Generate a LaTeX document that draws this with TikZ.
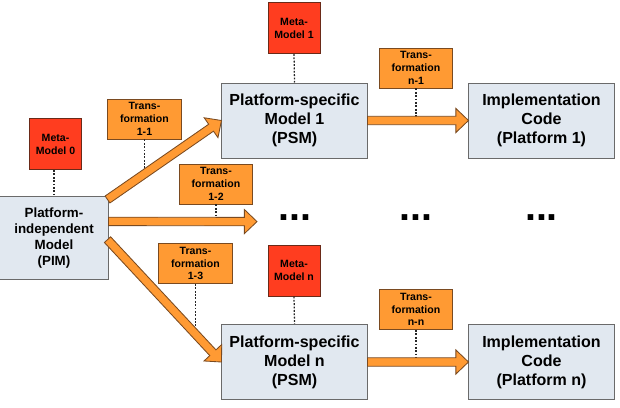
\documentclass[tikz,border=0pt]{standalone}
\usepackage{fontspec}
\setmainfont{Liberation Sans}
\usetikzlibrary{calc}

\definecolor{modelfill}{HTML}{E1E8F0}
\definecolor{modeldraw}{HTML}{6A6A6A}
\definecolor{metafill}{HTML}{FF3D1F}
\definecolor{metadraw}{HTML}{6A2A18}
\definecolor{transfill}{HTML}{FF9A33}
\definecolor{transdraw}{HTML}{7A4A20}

\newcommand{\fatarrow}[2]{%
    \coordinate (fa-base) at ($(#2)!9pt!(#1)$);
    \filldraw[fat] ($(#1)!3pt!90:(#2)$) -- ($(fa-base)!3pt!90:(#2)$)
        -- ($(fa-base)!8.6pt!90:(#2)$) -- (#2)
        -- ($(fa-base)!8.6pt!-90:(#2)$) -- ($(fa-base)!3pt!-90:(#2)$)
        -- ($(#1)!3pt!-90:(#2)$) -- cycle;}

\begin{document}
\begin{tikzpicture}[
    x=0.025cm, y=-0.025cm,
    model/.style={
        draw=modeldraw,
        fill=modelfill,
        line width=0.7pt,
        minimum width=3.625cm,
        minimum height=1.875cm,
        inner sep=0pt,
        align=center,
        font=\fontsize{11.4}{13.5}\selectfont\bfseries
    },
    meta/.style={
        draw=metadraw,
        fill=metafill,
        line width=0.7pt,
        minimum width=1.3cm,
        minimum height=1.275cm,
        inner sep=0pt,
        align=center,
        font=\fontsize{7.5}{9.2}\selectfont\bfseries
    },
    trans/.style={
        draw=transdraw,
        fill=transfill,
        line width=0.7pt,
        minimum width=1.825cm,
        minimum height=1cm,
        inner sep=0pt,
        align=center,
        font=\fontsize{7.5}{9}\selectfont\bfseries
    },
    fat/.style={fill=transfill, draw=transdraw, line width=0.6pt, line join=miter},
    dots/.style={draw=black!85, line width=0.9pt, dash pattern=on 1.3pt off 1.1pt}
]
    \useasboundingbox (0,0) rectangle (620,408);

    \node[model, minimum width=2.7cm, minimum height=2.05cm,
          font=\fontsize{9.5}{11.4}\selectfont\bfseries] (pim) at (54,238)
        {Platform-\\independent\\Model\\(PIM)};

    \node[model] (psm1) at (294.5,120.5) {Platform-specific\\Model 1\\(PSM)};
    \node[model] (impl1) at (541.5,120.5) {Implementation\\Code\\(Platform 1)};
    \node[model] (psmn) at (294.5,362) {Platform-specific\\Model n\\(PSM)};
    \node[model] (impln) at (541.5,362) {Implementation\\Code\\(Platform n)};

    \node[meta] (meta0) at (55.5,144) {Meta-\\Model 0};
    \node[meta] (meta1) at (294,28) {Meta-\\Model 1};
    \node[meta] (metan) at (294,270.5) {Meta-\\Model n};

    \node[trans] (t11) at (144.5,119) {Trans-\\formation\\1-1};
    \node[trans] (t12) at (216,184) {Trans-\\formation\\1-2};
    \node[trans] (t13) at (195.5,263.5) {Trans-\\formation\\1-3};
    \node[trans] (tn1) at (416,68) {Trans-\\formation\\n-1};
    \node[trans] (tnn) at (416,309.5) {Trans-\\formation\\n-n};

    \node[anchor=base, inner sep=0pt, font=\fontsize{28}{28}\selectfont\bfseries] (dots1) at (295,220) {...};
    \node[anchor=base, inner sep=0pt, font=\fontsize{28}{28}\selectfont\bfseries] (dots2) at (416,220) {...};
    \node[anchor=base, inner sep=0pt, font=\fontsize{28}{28}\selectfont\bfseries] (dots3) at (541.5,220) {...};

    \coordinate (pimtop) at ($(pim.north east)+(-1,3)$);
    \coordinate (pimmid) at ($(pim.north east)!0.3!(pim.south east)$);
    \coordinate (pimlow) at ($(pim.north east)!0.52!(pim.south east)+(-1,0)$);
    \coordinate (midtip) at (257,221.6);
    \coordinate (d11) at ($(pimtop)!0.32!(psm1.west)$);
    \coordinate (d13) at ($(pimlow)!0.78!(psmn.west)$);

    \draw[dots] (pim.north |- meta0.south) -- (pim.north);
    \draw[dots] (meta1.south) -- (psm1.north);
    \draw[dots] (metan.south) -- (psmn.north);
    \draw[dots] (t11.south) -- (t11.south |- d11);
    \draw[dots] (t12.south) -- (t12.south |- pimmid);
    \draw[dots] (t13.south) -- (t13.south |- d13);
    \draw[dots] (tn1.south) -- (tn1.south |- psm1.east);
    \draw[dots] (tnn.south) -- (tnn.south |- psmn.east);

    \fatarrow{pimtop}{psm1.west}
    \fatarrow{pimmid}{midtip}
    \fatarrow{pimlow}{psmn.west}
    \fatarrow{psm1.east}{impl1.west}
    \fatarrow{psmn.east}{impln.west}
\end{tikzpicture}
\end{document}
